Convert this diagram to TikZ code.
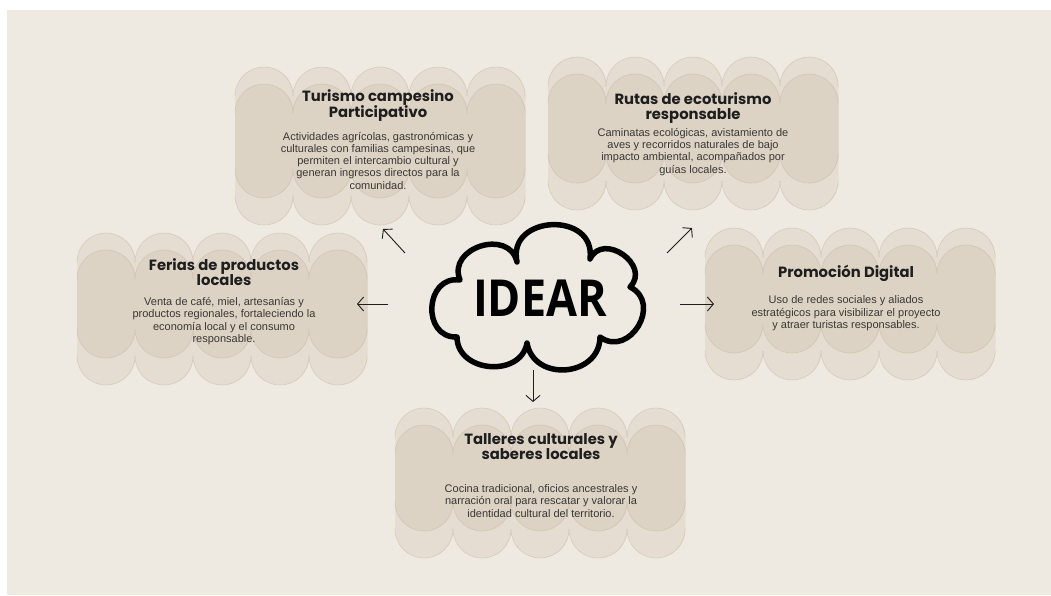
\documentclass[tikz,border=0pt]{standalone}
\usepackage{fontspec}
\setmainfont{Liberation Sans}
\newfontfamily\headfont{Poppins}
\newfontfamily\ideafont{Open Sans}
\usepackage{tikz}
\usetikzlibrary{arrows.meta,positioning}
\definecolor{paper}{RGB}{238,234,226}
\definecolor{claylight}{RGB}{229,221,209}
\definecolor{claydark}{RGB}{221,211,197}
\definecolor{clayedge}{RGB}{198,183,162}
\definecolor{ink}{RGB}{30,30,30}
\definecolor{inksoft}{RGB}{58,55,52}

% scalloped card: two layers of five pill columns (left x, top y, bottom y)
\newcommand\scallopcard[3]{%
  \foreach \k in {0,...,4}{
    \fill[claylight,pill] ({#1+58*\k},#2) rectangle ++(58.6,{#3-#2-27});
    \fill[claylight,pill] ({#1+58*\k},{#2+17}) rectangle ++(58.6,{#3-#2-17});
  }
  \foreach \k in {0,...,4}{
    \fill[claydark,pill] ({#1+58*\k},{#2+17}) rectangle ++(58.6,{#3-#2-44});
    \draw[clayline] ({#1+58*\k},{#2+29}) arc[start angle=180,end angle=0,radius=29pt];
    \draw[clayline] ({#1+58*\k},{#2+46}) arc[start angle=180,end angle=0,radius=29pt];
    \draw[clayline] ({#1+58*\k},{#3-56}) arc[start angle=180,end angle=360,radius=29pt];
    \draw[clayline] ({#1+58*\k},{#3-29}) arc[start angle=180,end angle=360,radius=29pt];
  }}

\begin{document}
\begin{tikzpicture}[
    x=1pt,y=-1pt,
    pill/.style={rounded corners=29pt},
    clayline/.style={draw=clayedge,draw opacity=0.5,line width=0.6pt},
    cardtitle/.style={font={\headfont\bfseries\fontsize{14.8}{15}\selectfont},
      text=ink,align=center,inner sep=0pt,anchor=north},
    cardtext/.style={font={\fontsize{11}{12.2}\selectfont},
      text=inksoft,align=center,inner sep=0pt},
    link/.style={-{Straight Barb[length=6pt,width=14pt]},line width=0.9pt,draw=ink}
  ]
    \useasboundingbox (0,0) rectangle (1051,595);
    \fill[white] (0,0) rectangle (1051,595);
    \fill[paper] (7,10) rectangle (1051,595);

    % cards
    \scallopcard{235}{67}{225}
    \scallopcard{548}{57}{210}
    \scallopcard{77}{233}{385}
    \scallopcard{705}{228}{380}
    \scallopcard{395}{408}{558}

    \node[cardtitle] (turismo) at (378,89) {Turismo campesino\\Participativo};
    \node[cardtext,below=10pt of turismo] (turismotxt) {Actividades agrícolas, gastronómicas y\\culturales con familias campesinas, que\\permiten el intercambio cultural y\\generan ingresos directos para la\\comunidad.};

    \node[cardtitle] (rutas) at (693,92) {Rutas de ecoturismo\\responsable};
    \node[cardtext,below=5pt of rutas] (rutastxt) {Caminatas ecológicas, avistamiento de\\aves y recorridos naturales de bajo\\impacto ambiental, acompañados por\\guías locales.};

    \node[cardtitle] (ferias) at (224,258) {Ferias de productos\\locales};
    \node[cardtext,below=12pt of ferias] (feriastxt) {Venta de café, miel, artesanías y\\productos regionales, fortaleciendo la\\economía local y el consumo\\responsable.};

    \node[cardtitle] (promo) at (846,265) {Promoción Digital};
    \node[cardtext,below=14pt of promo] (promotxt) {Uso de redes sociales y aliados\\estratégicos para visibilizar el proyecto\\y atraer turistas responsables.};

    \node[cardtitle] (talleres) at (541,433) {Talleres culturales y\\saberes locales};
    \node[cardtext,below=25pt of talleres] (tallerestxt) {Cocina tradicional, oficios ancestrales y\\narración oral para rescatar y valorar la\\identidad cultural del territorio.};

    % cloud
    \coordinate (c1) at (460,280);
    \coordinate (c2) at (517,262);
    \coordinate (c3) at (590,259);
    \coordinate (c4) at (630,287);
    \coordinate (c5) at (600,337);
    \coordinate (c6) at (527,343);
    \coordinate (c7) at (457,337);
    \draw[line width=5.5pt,line join=round]
      (c1) to[bend left=95,looseness=1.5] (c2)
           to[bend left=100,looseness=1.7] (c3)
           to[bend left=100,looseness=1.6] (c4)
           to[bend left=95,looseness=1.6] (c5)
           to[bend left=85,looseness=1.4] (c6)
           to[bend left=85,looseness=1.3] (c7)
           to[bend left=95,looseness=1.6] (c1) -- cycle;
    \node[font={\ideafont\bfseries\fontsize{51}{51}\selectfont},xscale=0.88] (idea) at (540,298) {IDEAR};

    % arrows
    \coordinate (nwfrom) at (405,253);
    \coordinate (nwto) at (383,229);
    \coordinate (nefrom) at (667,253);
    \coordinate (neto) at (692,228);
    \coordinate (wfrom) at (388,304);
    \coordinate (wto) at (357,304);
    \coordinate (efrom) at (680,304);
    \coordinate (eto) at (714,304);
    \coordinate (sfrom) at (533,370);
    \coordinate (sto) at (533,402);
    \draw[link] (nwfrom) -- (nwto);
    \draw[link] (nefrom) -- (neto);
    \draw[link] (wfrom) -- (wto);
    \draw[link] (efrom) -- (eto);
    \draw[link] (sfrom) -- (sto);
\end{tikzpicture}
\end{document}
